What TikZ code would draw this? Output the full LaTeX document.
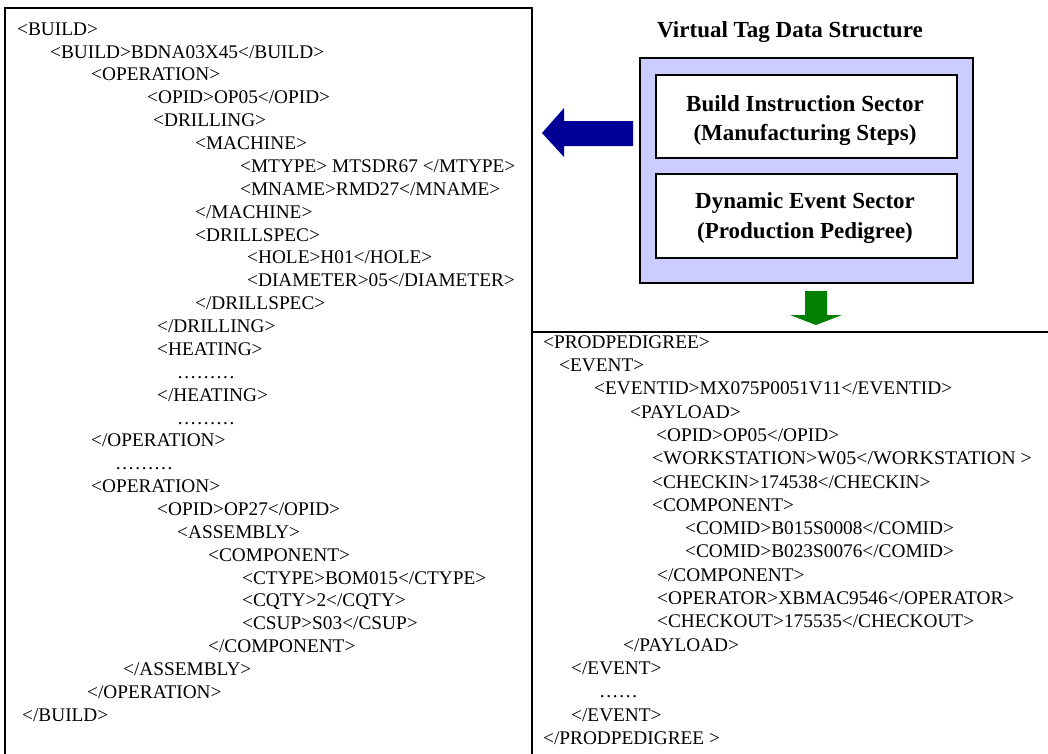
\documentclass[tikz,border=0pt]{standalone}
\usepackage{graphicx}
\usepackage{fontspec}
\setmainfont{Liberation Serif}
\definecolor{tagfill}{RGB}{204,204,255}
\definecolor{arrowblue}{RGB}{0,0,150}
\definecolor{arrowgreen}{RGB}{0,128,0}
% horizontal stretch of a single line of markup
\newcommand{\stretchline}[2]{\scalebox{#1}[1]{#2}}
\tikzset{
  panel/.style={draw=black, line width=2.6pt},
  xml/.style={anchor=base west, inner sep=0pt, font=\fontsize{19.3}{22}\selectfont},
  heading/.style={anchor=base, inner sep=0pt, font=\fontsize{23}{27}\selectfont\bfseries},
  sector/.style={draw=black, fill=white, line width=2pt},
  sectortext/.style={anchor=base, inner sep=0pt, font=\fontsize{23}{27}\selectfont\bfseries}
}
\begin{document}
\begin{tikzpicture}[x=1pt, y=-1pt]
\useasboundingbox (0,0) rectangle (1048,753);
\fill[white] (0,0) rectangle (1048,753);

% ---- panels ----
\draw[panel] (5,8) rectangle (532,790);
\draw[panel] (532,332) -- (1070,332);

% ---- build instructions ----
\node[xml] (b1)  at (17,35.2)  {<BUILD>};
\node[xml] (b2)  at (50,58.1)  {<BUILD>BDNA03X45</BUILD>};
\node[xml] (b3)  at (91,80.9)  {<OPERATION>};
\node[xml] (b4)  at (147,103.8) {<OPID>OP05</OPID>};
\node[xml] (b5)  at (153,126.7) {<DRILLING>};
\node[xml] (b6)  at (195,149.6) {<MACHINE>};
\node[xml] (b7)  at (240,172.4) {<MTYPE> MTSDR67 </MTYPE>};
\node[xml] (b8)  at (240,195.3) {<MNAME>RMD27</MNAME>};
\node[xml] (b9)  at (195,218.2) {</MACHINE>};
\node[xml] (b10) at (195,241.0) {<DRILLSPEC>};
\node[xml] (b11) at (247,263.9) {<HOLE>H01</HOLE>};
\node[xml] (b12) at (247,286.8) {<DIAMETER>05</DIAMETER>};
\node[xml] (b13) at (195,309.6) {</DRILLSPEC>};
\node[xml] (b14) at (157,332.5) {</DRILLING>};
\node[xml] (b15) at (157,355.4) {<HEATING>};
\node[xml] (b16) at (177,378.2) {………};
\node[xml] (b17) at (157,401.1) {</HEATING>};
\node[xml] (b18) at (177,424.0) {………};
\node[xml] (b19) at (91,446.9)  {</OPERATION>};
\node[xml] (b20) at (115,469.7) {………};
\node[xml] (b21) at (91,492.6)  {<OPERATION>};
\node[xml] (b22) at (157,515.5) {<OPID>OP27</OPID>};
\node[xml] (b23) at (177,538.3) {<ASSEMBLY>};
\node[xml] (b24) at (208,561.2) {<COMPONENT>};
\node[xml] (b25) at (242,584.1) {<CTYPE>BOM015</CTYPE>};
\node[xml] (b26) at (242,606.9) {<CQTY>2</CQTY>};
\node[xml] (b27) at (242,629.8) {<CSUP>S03</CSUP>};
\node[xml] (b28) at (208,652.7) {</COMPONENT>};
\node[xml] (b29) at (123,675.5) {</ASSEMBLY>};
\node[xml] (b30) at (87,698.4)  {</OPERATION>};
\node[xml] (b31) at (22,721.3)  {</BUILD>};

% ---- production pedigree ----
\node[xml] (p1)  at (543,348.2) {<PRODPEDIGREE>};
\node[xml] (p2)  at (559,371.5) {<EVENT>};
\node[xml] (p3)  at (594,394.8) {<EVENTID>MX075P0051V11</EVENTID>};
\node[xml] (p4)  at (630,418.1) {<PAYLOAD>};
\node[xml] (p5)  at (656,441.4) {<OPID>OP05</OPID>};
\node[xml] (p6)  at (652,464.7) {\stretchline{1.035}{<WORKSTATION>W05</WORKSTATION >}};
\node[xml] (p7)  at (652,488.0) {<CHECKIN>174538</CHECKIN>};
\node[xml] (p8)  at (652,511.3) {<COMPONENT>};
\node[xml] (p9)  at (685,534.6) {<COMID>B015S0008</COMID>};
\node[xml] (p10) at (685,557.9) {<COMID>B023S0076</COMID>};
\node[xml] (p11) at (657,581.2) {</COMPONENT>};
\node[xml] (p12) at (657,604.5) {<OPERATOR>XBMAC9546</OPERATOR>};
\node[xml] (p13) at (657,627.8) {<CHECKOUT>175535</CHECKOUT>};
\node[xml] (p14) at (623,651.1) {</PAYLOAD>};
\node[xml] (p15) at (571,674.4) {</EVENT>};
\node[xml] (p16) at (599,697.7) {……};
\node[xml] (p17) at (571,721.0) {</EVENT>};
\node[xml] (p18) at (543,744.3) {</PRODPEDIGREE >};

% ---- virtual tag data structure ----
\node[heading] (title) at (790,37) {Virtual Tag Data Structure};
\draw[line width=2.6pt, fill=tagfill] (640,58) rectangle (973,283);
\draw[sector] (656,75) rectangle (957,158);
\draw[sector] (656,174) rectangle (957,258);
\node[sectortext] (s1a) at (805,111) {Build Instruction Sector};
\node[sectortext] (s1b) at (805,140) {(Manufacturing Steps)};
\node[sectortext] (s2a) at (805,208) {Dynamic Event Sector};
\node[sectortext] (s2b) at (805,238) {(Production Pedigree)};

% ---- block arrows ----
\fill[arrowblue] (542,133) -- (564,108) -- (564,121) -- (633,121)
  -- (633,146) -- (564,146) -- (564,157) -- cycle;
\fill[arrowgreen] (805,291) -- (827,291) -- (827,315) -- (842,315)
  -- (816,325) -- (790,315) -- (805,315) -- cycle;
\end{tikzpicture}
\end{document}
